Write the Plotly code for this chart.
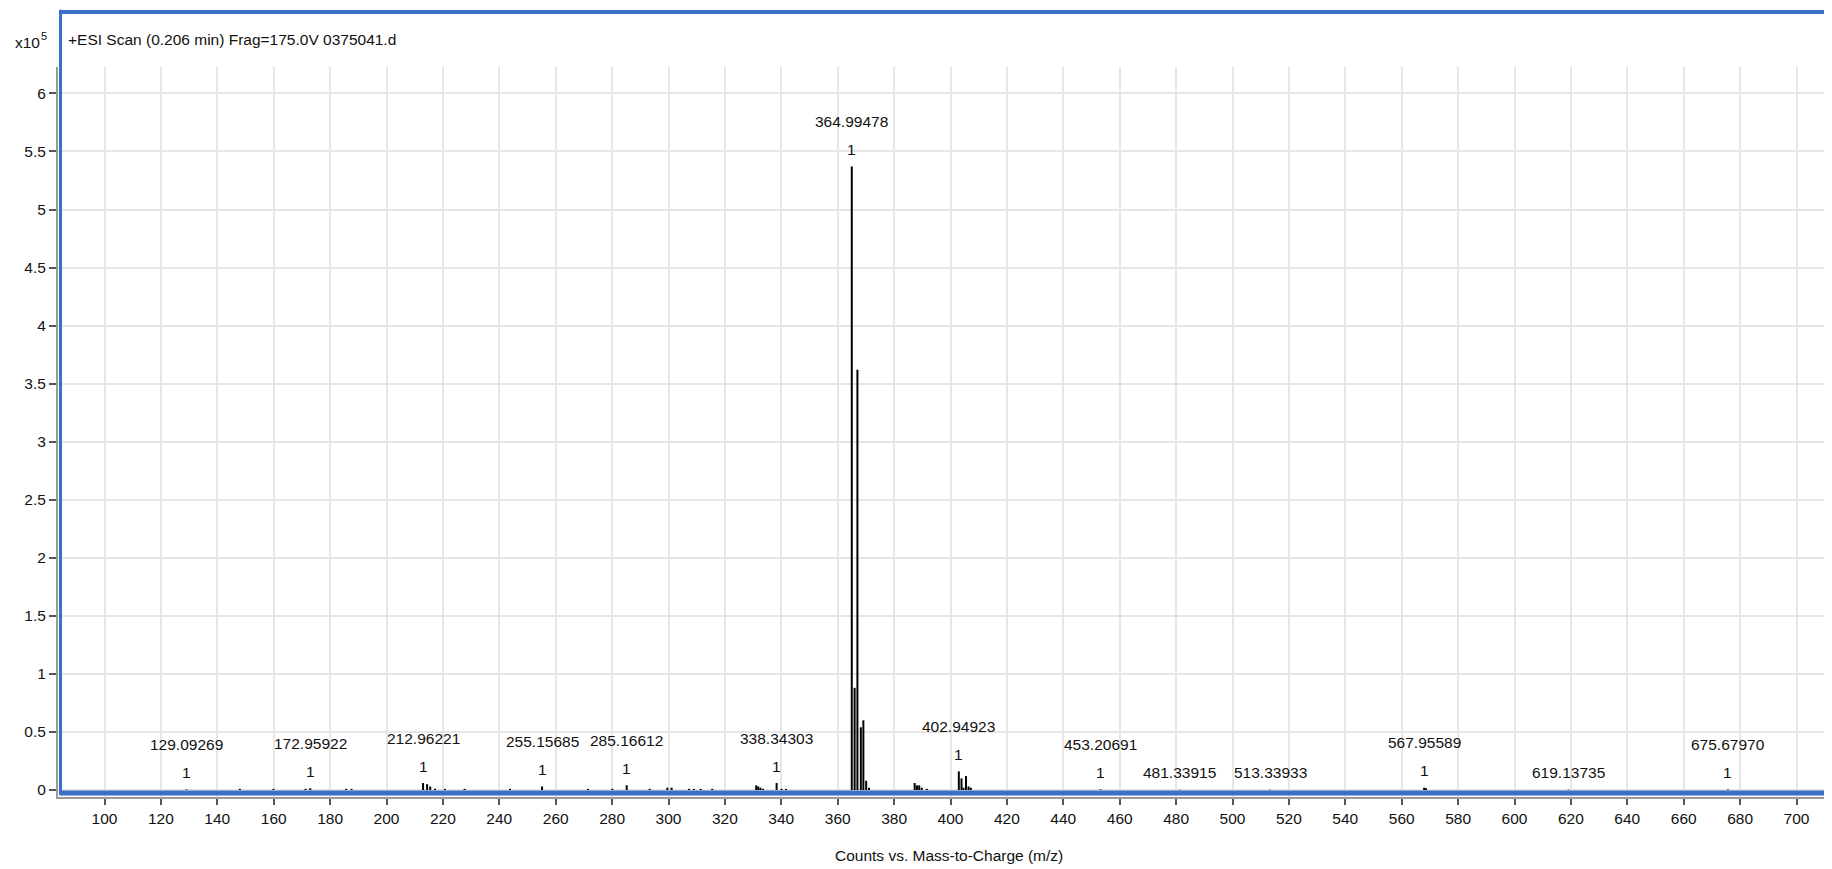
import plotly.graph_objects as go

# ---- data (intensity in units of 10^5 counts) ----
peak_mz = [129.09, 148.0, 159.9, 171.3, 172.96, 185.7, 187.6,
           212.96, 214.4, 215.5, 217.2, 220.7, 227.7, 243.8, 255.16,
           271.5, 280.1, 285.17, 293.3, 299.6, 301.1, 307.3, 309.0, 311.4, 315.5,
           331.1, 331.8, 332.6, 333.5, 338.34, 340.1, 341.7,
           364.99, 366.0, 366.99, 368.2, 369.1, 370.1, 371.1,
           387.3, 388.1, 388.9, 389.8, 391.6,
           402.95, 403.9, 404.6, 405.5, 406.4, 407.2,
           453.21, 481.34, 513.34, 567.96, 568.6, 619.14, 675.68]
peak_int = [0.005, 0.01, 0.01, 0.01, 0.015, 0.01, 0.01,
            0.06, 0.05, 0.03, 0.01, 0.01, 0.01, 0.01, 0.03,
            0.01, 0.01, 0.04, 0.01, 0.02, 0.02, 0.01, 0.01, 0.01, 0.01,
            0.04, 0.03, 0.02, 0.01, 0.06, 0.01, 0.01,
            5.37, 0.88, 3.62, 0.54, 0.60, 0.08, 0.02,
            0.06, 0.04, 0.04, 0.02, 0.01,
            0.16, 0.10, 0.02, 0.12, 0.03, 0.02,
            0.005, 0.003, 0.003, 0.02, 0.015, 0.003, 0.005]

label_mz = [129.09269, 172.95922, 212.96221, 255.15685, 285.16612, 338.34303,
            364.99478, 402.94923, 453.20691, 481.33915, 513.33933, 567.95589,
            619.13735, 675.67970]
label_text = ["129.09269", "172.95922", "212.96221", "255.15685", "285.16612", "338.34303",
              "364.99478", "402.94923", "453.20691", "481.33915", "513.33933", "567.95589",
              "619.13735", "675.67970"]
label_charge = ["1", "1", "1", "1", "1", "1", "1", "1", "1", "", "", "1", "", "1"]

x_ticks = list(range(100, 701, 20))

title_text = "+ESI Scan (0.206 min) Frag=175.0V 0375041.d"
x_title = "Counts vs. Mass-to-Charge (m/z)"

FONT = "Liberation Sans, Arial, sans-serif"
FS = 15.5
BLUE = "#3B70C6"
TXT = "#111111"

# ---- sticks ----
sx, sy = [], []
for m, h in zip(peak_mz, peak_int):
    sx += [m, m, None]
    sy += [0, h, None]

fig = go.Figure()
fig.add_trace(go.Scatter(x=sx, y=sy, mode="lines",
                         line=dict(color="black", width=2),
                         hoverinfo="skip", showlegend=False))

annotations = []
for m, txt, ch in zip(label_mz, label_text, label_charge):
    idx = min(range(len(peak_mz)), key=lambda i: abs(peak_mz[i] - m))
    h = peak_int[idx]
    if ch:
        annotations.append(dict(x=m, y=h, xref="x", yref="y", text=ch, showarrow=False,
                                yanchor="middle", yshift=17,
                                font=dict(family=FONT, size=FS, color=TXT)))
        annotations.append(dict(x=m, y=h, xref="x", yref="y", text=txt, showarrow=False,
                                yanchor="middle", yshift=45,
                                font=dict(family=FONT, size=FS, color=TXT)))
    else:
        annotations.append(dict(x=m, y=h, xref="x", yref="y", text=txt, showarrow=False,
                                yanchor="middle", yshift=17,
                                font=dict(family=FONT, size=FS, color=TXT)))

L, T, B = 50, 59, 789
W = 1832 - L
H = B - T

annotations.append(dict(x=(58 - L) / W, y=1 + (T - 32) / H, xref="paper", yref="paper",
                        text=title_text, showarrow=False, xanchor="left", yanchor="middle",
                        font=dict(family=FONT, size=FS, color=TXT)))
annotations.append(dict(x=(5 - L) / W, y=1 + (T - 35) / H, xref="paper", yref="paper",
                        text="x10", showarrow=False, xanchor="left", yanchor="middle",
                        font=dict(family=FONT, size=FS, color=TXT)))
annotations.append(dict(x=(31 - L) / W, y=1 + (T - 28) / H, xref="paper", yref="paper",
                        text="5", showarrow=False, xanchor="left", yanchor="middle",
                        font=dict(family=FONT, size=11, color=TXT)))
annotations.append(dict(x=0.5, y=-(847 - B) / H, xref="paper", yref="paper",
                        text=x_title, showarrow=False, xanchor="center", yanchor="middle",
                        font=dict(family=FONT, size=FS, color=TXT)))

top_y = 1 + (T - 4) / H
bot_y = (B - 785) / H
left_x = 2.5 / W
shapes = [
    dict(type="line", xref="paper", yref="paper", x0=left_x, x1=left_x, y0=bot_y - 0.003, y1=top_y + 0.003,
         line=dict(color=BLUE, width=3), layer="above"),
    dict(type="line", xref="paper", yref="paper", x0=left_x, x1=1.01, y0=top_y, y1=top_y,
         line=dict(color=BLUE, width=4), layer="above"),
    dict(type="line", xref="paper", yref="paper", x0=left_x, x1=1.01, y0=bot_y, y1=bot_y,
         line=dict(color=BLUE, width=5), layer="above"),
]

px_per_unit = 2.82
x100_px = 96.5
x_lo = 100 - (x100_px - L) / px_per_unit
x_hi = 100 + (1832 - x100_px) / px_per_unit
y0_px = 782
py_per_unit = 116.1
y_lo = -(B - y0_px) / py_per_unit
y_hi = (y0_px - T) / py_per_unit

fig.update_layout(
    width=1832, height=869,
    margin=dict(l=L, r=0, t=T, b=869 - B, pad=0),
    paper_bgcolor="white", plot_bgcolor="white",
    font=dict(family=FONT, size=FS, color=TXT),
    xaxis=dict(range=[x_lo, x_hi], tickvals=x_ticks, ticktext=[str(v) for v in x_ticks],
               showgrid=True, gridcolor="#e6e6e6", gridwidth=1.5,
               ticks="outside", ticklen=6, tickwidth=1.5, tickcolor="#555",
               showline=True, linecolor="#9a9a9a", linewidth=2, zeroline=False,
               tickfont=dict(family=FONT, size=FS, color=TXT)),
    yaxis=dict(range=[y_lo, y_hi], tick0=0, dtick=0.5,
               showgrid=True, gridcolor="#e6e6e6", gridwidth=1.5,
               ticks="outside", ticklen=7, tickwidth=1.5, tickcolor="#555",
               showline=True, linecolor="#9a9a9a", linewidth=2, zeroline=False,
               tickfont=dict(family=FONT, size=FS, color=TXT)),
    annotations=annotations,
    shapes=shapes,
    showlegend=False,
)

fig.write_html("out.html")
